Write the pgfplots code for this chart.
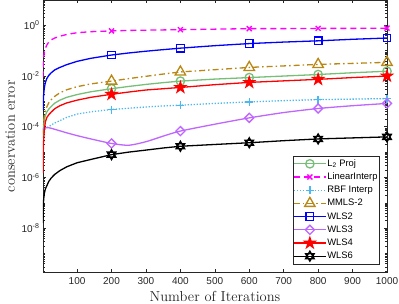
\documentclass[border=0pt]{standalone}
\usepackage{fontspec}
\usepackage{pgfplots}
\usepackage{pgfplotstable}
\pgfplotsset{compat=1.18}
\newfontfamily\arialf{Liberation Sans}
\definecolor{mgray}{RGB}{38,38,38}
\definecolor{cgreen}{RGB}{119,190,119}
\definecolor{cmag}{RGB}{255,0,255}
\definecolor{crbf}{RGB}{77,184,238}
\definecolor{cbrown}{RGB}{184,135,20}
\definecolor{cblue}{RGB}{0,0,255}
\definecolor{cpurple}{RGB}{191,102,255}
\definecolor{cred}{RGB}{255,0,0}

\pgfdeclareplotmark{pentagram}{%
  \pgfpathmoveto{\pgfqpointpolar{90}{\pgfplotmarksize}}%
  \pgfpathlineto{\pgfqpointpolar{126}{0.382\pgfplotmarksize}}%
  \pgfpathlineto{\pgfqpointpolar{162}{\pgfplotmarksize}}%
  \pgfpathlineto{\pgfqpointpolar{198}{0.382\pgfplotmarksize}}%
  \pgfpathlineto{\pgfqpointpolar{234}{\pgfplotmarksize}}%
  \pgfpathlineto{\pgfqpointpolar{270}{0.382\pgfplotmarksize}}%
  \pgfpathlineto{\pgfqpointpolar{306}{\pgfplotmarksize}}%
  \pgfpathlineto{\pgfqpointpolar{342}{0.382\pgfplotmarksize}}%
  \pgfpathlineto{\pgfqpointpolar{18}{\pgfplotmarksize}}%
  \pgfpathlineto{\pgfqpointpolar{54}{0.382\pgfplotmarksize}}%
  \pgfpathclose\pgfusepathqfillstroke}
\pgfdeclareplotmark{hexagram}{%
  \pgfpathmoveto{\pgfqpointpolar{90}{\pgfplotmarksize}}%
  \pgfpathlineto{\pgfqpointpolar{210}{\pgfplotmarksize}}%
  \pgfpathlineto{\pgfqpointpolar{330}{\pgfplotmarksize}}%
  \pgfpathclose
  \pgfpathmoveto{\pgfqpointpolar{270}{\pgfplotmarksize}}%
  \pgfpathlineto{\pgfqpointpolar{30}{\pgfplotmarksize}}%
  \pgfpathlineto{\pgfqpointpolar{150}{\pgfplotmarksize}}%
  \pgfpathclose\pgfusepathqstroke}

\def\minorlist{1e-10}
\foreach \e in {-10,...,0}{\foreach \m in {2,...,9}{\xdef\minorlist{\minorlist,\m e\e}}}
\foreach \e in {-9,-7,...,1}{\xdef\minorlist{\minorlist,1e\e}}

\pgfplotstableread{
x l2 lin rbf mmls wlsb wlsc wlsd wlsf
1 3.55e-5 8.91e-3 6.31e-5 5.01e-5 4.47e-4 7.59e-5 1.48e-6 1.58e-8
2 7.08e-5 3.55e-2 6.76e-5 1.12e-4 1.12e-3 8.32e-5 1.26e-5 7.94e-8
3 1.12e-4 5.62e-2 7.08e-5 1.78e-4 1.91e-3 8.71e-5 3.16e-5 1.41e-7
5 1.91e-4 8.91e-2 7.59e-5 2.82e-4 3.55e-3 8.91e-5 7.94e-5 2.40e-7
8 2.82e-4 1.26e-1 8.32e-5 4.17e-4 5.62e-3 9.12e-5 1.58e-4 3.55e-7
12 3.80e-4 1.66e-1 9.12e-5 6.03e-4 7.94e-3 9.12e-5 2.29e-4 4.68e-7
18 5.01e-4 2.24e-1 1.02e-4 8.91e-4 1.07e-2 9.12e-5 3.02e-4 7.08e-7
25 6.31e-4 2.69e-1 1.17e-4 1.17e-3 1.35e-2 8.71e-5 3.80e-4 9.55e-7
35 8.51e-4 3.16e-1 1.41e-4 1.58e-3 1.74e-2 7.94e-5 5.13e-4 1.32e-6
50 1.12e-3 3.72e-1 1.74e-4 2.19e-3 2.19e-2 6.92e-5 6.76e-4 1.86e-6
70 1.45e-3 4.37e-1 2.34e-4 2.88e-3 2.82e-2 5.75e-5 8.71e-4 2.63e-6
100 1.86e-3 5.13e-1 3.16e-4 3.80e-3 3.80e-2 4.47e-5 1.12e-3 3.80e-6
140 2.40e-3 5.62e-1 3.89e-4 4.90e-3 5.01e-2 3.31e-5 1.45e-3 5.13e-6
200 3.16e-3 6.03e-1 4.79e-4 6.31e-3 6.76e-2 2.19e-5 1.91e-3 7.94e-6
250 3.89e-3 6.31e-1 5.37e-4 7.94e-3 8.13e-2 1.86e-5 2.34e-3 1.00e-5
300 4.68e-3 6.46e-1 6.03e-4 9.77e-3 9.55e-2 2.57e-5 2.82e-3 1.20e-5
350 5.50e-3 6.61e-1 6.61e-4 1.20e-2 1.10e-1 4.27e-5 3.16e-3 1.45e-5
400 6.31e-3 6.76e-1 7.08e-4 1.45e-2 1.26e-1 6.76e-5 3.55e-3 1.70e-5
500 7.59e-3 7.08e-1 8.32e-4 1.78e-2 1.58e-1 1.26e-4 4.57e-3 2.00e-5
600 8.71e-3 7.41e-1 9.55e-4 2.19e-2 1.91e-1 2.24e-4 5.62e-3 2.34e-5
700 1.00e-2 7.41e-1 1.07e-3 2.51e-2 2.19e-1 3.63e-4 6.46e-3 2.82e-5
800 1.15e-2 7.59e-1 1.17e-3 2.88e-2 2.45e-1 5.25e-4 7.41e-3 3.31e-5
900 1.35e-2 7.59e-1 1.23e-3 3.16e-2 2.82e-1 6.76e-4 8.71e-3 3.63e-5
1000 1.55e-2 7.76e-1 1.29e-3 3.47e-2 3.16e-1 8.32e-4 1.00e-2 3.98e-5
}\datatab

\begin{document}
\begin{tikzpicture}
\begin{axis}[
  scale only axis, width=344pt, height=272.5pt,
  ymode=log, xmin=1, xmax=1000, ymin=1.78e-10, ymax=10,
  xtick={100,200,...,1000},
  ytick={1e-8,1e-6,1e-4,1e-2,1},
  yticklabels={10\textsuperscript{-8},10\textsuperscript{-6},10\textsuperscript{-4},10\textsuperscript{-2},10\textsuperscript{0}},
  minor ytick/.expanded={\minorlist},
  tick align=inside,
  major tick length=3.4pt, minor tick length=2pt,
  axis line style={mgray, line width=0.5pt},
  every tick/.style={mgray, line width=0.5pt},
  /pgf/number format/assume math mode=true,
  /pgf/number format/1000 sep={},
  tick label style={font=\arialf\fontsize{10}{12}\selectfont, text=mgray},
  xticklabel style={yshift=-1pt},
  xlabel={Number of Iterations},
  ylabel={conservation error},
  label style={font=\fontsize{14.5}{16}\selectfont, text=mgray},
  xlabel style={at={(rel axis cs:0.5,0)}, anchor=base, yshift=-29.5pt},
  ylabel style={at={(axis description cs:-0.0814,0.5)}, anchor=base},
  mark indices={14,18,20,22,24},
  every axis plot/.append style={line width=1.3pt},
  legend cell align=left,
  legend style={at={(0.9767,0.0312)}, anchor=south east,
    draw=mgray, fill=white, inner xsep=0.5pt, inner ysep=1pt,
    /tikz/column sep=0pt,
    font=\arialf\fontsize{9.4}{11}\selectfont,
    nodes={inner xsep=0.8pt, inner ysep=2.3pt, text height=6.8pt, text depth=1.8pt}},
  legend image code/.code={\draw[mark indices={2}] plot coordinates {(0pt,0pt)(16pt,0pt)(32pt,0pt)};},
]
\coordinate (O) at (rel axis cs:0,0);
\addplot[cgreen, mark=o, mark size=4.2pt] table[x=x,y=l2]{\datatab};
\addlegendentry{L\textsubscript{2} Proj}
\addplot[cmag, dash pattern=on 6pt off 4pt, mark=x, mark size=3.5pt, mark options={solid}] table[x=x,y=lin]{\datatab};
\addlegendentry{LinearInterp}
\addplot[crbf, dash pattern=on 1.3pt off 1.7pt, mark=+, mark size=4pt, mark options={solid}] table[x=x,y=rbf]{\datatab};
\addlegendentry{RBF Interp}
\addplot[cbrown, dash pattern=on 6pt off 3pt on 1.5pt off 3pt, mark=triangle, mark size=6pt, mark options={solid}] table[x=x,y=mmls]{\datatab};
\addlegendentry{MMLS-2}
\addplot[cblue, mark=square, mark size=3.8pt] table[x=x,y=wlsb]{\datatab};
\addlegendentry{WLS2}
\addplot[cpurple, smooth, tension=0.4, mark=square, mark size=3.2pt, mark options={rotate=45}] table[x=x,y=wlsc]{\datatab};
\addlegendentry{WLS3}
\addplot[cred, mark=pentagram, mark size=5.5pt, mark options={fill=cred}] table[x=x,y=wlsd]{\datatab};
\addlegendentry{WLS4}
\addplot[black, mark=hexagram, mark size=5pt] table[x=x,y=wlsf]{\datatab};
\addlegendentry{WLS6}
\end{axis}
\pgfresetboundingbox
\useasboundingbox ([shift={(-43pt,-31.5pt)}]O) rectangle ([shift={(356pt,272.5pt)}]O);
\end{tikzpicture}
\end{document}
